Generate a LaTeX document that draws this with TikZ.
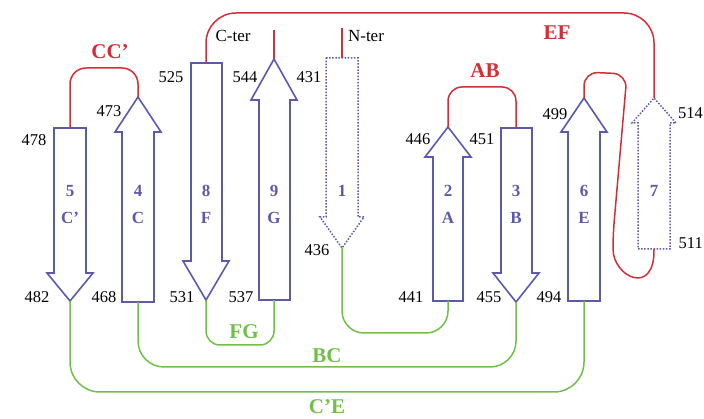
\documentclass[tikz,border=0pt]{standalone}
\usepackage{fontspec}
\setmainfont{Liberation Serif}
\usepackage{tikz}
\usetikzlibrary{calc}
\definecolor{strandblue}{RGB}{92,88,170}
\definecolor{loopred}{RGB}{212,45,55}
\definecolor{loopgreen}{RGB}{112,192,72}

\begin{document}
\begin{tikzpicture}[x=1pt,y=-1pt,
    strand/.style={draw=strandblue,line width=1.6pt,line join=miter},
    hidden/.style={draw=strandblue,line width=1.5pt,dash pattern=on 1.5pt off 1.6pt},
    redloop/.style={draw=loopred,line width=1.5pt,rounded corners=14pt},
    greenloop/.style={draw=loopgreen,line width=1.5pt},
    resnum/.style={inner sep=0pt,font=\fontsize{16.5}{18}\selectfont},
    sname/.style={inner sep=0pt,text=strandblue,font=\fontsize{17}{19}\selectfont\bfseries},
    rlabel/.style={inner sep=0pt,text=loopred,font=\fontsize{21}{23}\selectfont\bfseries},
    glabel/.style={inner sep=0pt,text=loopgreen,font=\fontsize{21}{23}\selectfont\bfseries}]
        % пиксельна сітка 704x419, y донизу
        \useasboundingbox (0,0) rectangle (704,419);

        % Кінці тяжів (t - верх, b - низ)
        \coordinate (s5t) at (70,128);  \coordinate (s5b) at (70,301);
        \coordinate (s4t) at (138,97);  \coordinate (s4b) at (138,302);
        \coordinate (s8t) at (206,63);  \coordinate (s8b) at (206,300);
        \coordinate (s9t) at (274,59);  \coordinate (s9b) at (274,300);
        \coordinate (s1t) at (342,58);  \coordinate (s1b) at (342,248);
        \coordinate (s2t) at (448,127); \coordinate (s2b) at (448,301);
        \coordinate (s3t) at (516,128); \coordinate (s3b) at (516,302);
        \coordinate (s6t) at (584,98);  \coordinate (s6b) at (584,301);
        \coordinate (s7t) at (654,98);  \coordinate (s7b) at (654,249);

        % Тяжі вниз: 5, 8, 3
        \draw[strand] (54,128) -- (86,128) -- (86,273) -- (93,273) -- (s5b) -- (47,273) -- (54,273) -- cycle;
        \draw[strand] (191,63) -- (222,63) -- (222,261) -- (229,261) -- (s8b) -- (183,261) -- (191,261) -- cycle;
        \draw[strand] (501,128) -- (532,128) -- (532,273) -- (539,273) -- (s3b) -- (493,273) -- (501,273) -- cycle;

        % Тяжі вгору: 4, 9, 2, 6
        \draw[strand] (122,302) -- (154,302) -- (154,132) -- (161,132) -- (s4t) -- (115,132) -- (122,132) -- cycle;
        \draw[strand] (259,300) -- (290,300) -- (290,100) -- (297,100) -- (s9t) -- (251,100) -- (259,100) -- cycle;
        \draw[strand] (433,301) -- (463,301) -- (463,157) -- (471,157) -- (s2t) -- (425,157) -- (433,157) -- cycle;
        \draw[strand] (568,301) -- (600,301) -- (600,132) -- (607,132) -- (s6t) -- (561,132) -- (568,132) -- cycle;

        % Пунктирні тяжі 1 і 7
        \draw[hidden] (326,58) -- (358,58) -- (358,217) -- (364,217) -- (s1b) -- (320,217) -- (326,217) -- cycle;
        \draw[hidden] (638,249) -- (670,249) -- (670,123) -- (676,123) -- (s7t) -- (632,123) -- (638,123) -- cycle;

        % Червоні петлі (зверху)
        \draw[redloop,rounded corners=16pt] (s5t) -- (70,68) -- (138,68) -- (s4t);
        \draw[redloop] (s2t) -- (448,87) -- (516,87) -- (s3t);
        \draw[redloop,rounded corners=30pt] (s8t) -- (206,13) -- (654,13) -- (s7t);
        \draw[redloop] (s1t) -- (342,28);
        \draw[redloop] (s9t) -- (274,30);
        \draw[redloop] (s6t) -- (584,72) -- (627,74) -- (613,235)
            .. controls (613,277) and (655,297) .. (s7b);

        % Зелені петлі (знизу)
        \draw[greenloop,rounded corners=14pt] (s8b) -- (206,345) -- (274,345) -- (s9b);
        \draw[greenloop,rounded corners=22pt] (s1b) -- (342,333) -- (448,333) -- (s2b);
        \draw[greenloop,rounded corners=26pt] (s4b) -- (138,367) -- (516,367) -- (s3b);
        \draw[greenloop,rounded corners=30pt] (s5b) -- (70,392) -- (584,392) -- (s6b);

        % Назви тяжів
        \node[sname] (n5) at (70,191) {5};   \node[sname] (l5) at (70,218) {C'};
        \node[sname] (n4) at (138,191) {4};  \node[sname] (l4) at (138,218) {C};
        \node[sname] (n8) at (206,191) {8};  \node[sname] (l8) at (206,218) {F};
        \node[sname] (n9) at (274,191) {9};  \node[sname] (l9) at (274,218) {G};
        \node[sname] (n1) at (342,191) {1};
        \node[sname] (n2) at (448,191) {2};  \node[sname] (l2) at (448,218) {A};
        \node[sname] (n3) at (516,191) {3};  \node[sname] (l3) at (516,218) {B};
        \node[sname] (n6) at (584,191) {6};  \node[sname] (l6) at (584,218) {E};
        \node[sname] (n7) at (654,191) {7};

        % Номери залишків
        \node[resnum] (r478) at (34,140) {478};
        \node[resnum] (r473) at (109,111) {473};
        \node[resnum] (r525) at (171,77) {525};
        \node[resnum] (r544) at (245,77) {544};
        \node[resnum] (r431) at (309,77) {431};
        \node[resnum] (r446) at (418,139) {446};
        \node[resnum] (r451) at (482,139) {451};
        \node[resnum] (r499) at (555,114) {499};
        \node[resnum,anchor=east] (r514) at (703,113) {514};
        \node[resnum,anchor=east] (r511) at (703,243) {511};
        \node[resnum] (r436) at (317,250) {436};
        \node[resnum] (r482) at (37,297) {482};
        \node[resnum] (r468) at (104,297) {468};
        \node[resnum] (r531) at (182,297) {531};
        \node[resnum] (r537) at (241,297) {537};
        \node[resnum] (r441) at (411,297) {441};
        \node[resnum] (r455) at (489,297) {455};
        \node[resnum] (r494) at (549,297) {494};

        % Кінці ланцюга
        \node[resnum,font=\fontsize{17}{19}\selectfont] (cter) at (233,36) {C-ter};
        \node[resnum,font=\fontsize{17}{19}\selectfont] (nter) at (366,36) {N-ter};

        % Підписи петель
        \node[rlabel] (lcc) at (110,52) {CC'};
        \node[rlabel] (lab) at (485,71) {AB};
        \node[rlabel] (lef) at (557,33) {EF};
        \node[glabel] (lfg) at (244,332) {FG};
        \node[glabel] (lbc) at (327,356) {BC};
        \node[glabel] (lce) at (327,407) {C'E};
    \end{tikzpicture}
\end{document}
